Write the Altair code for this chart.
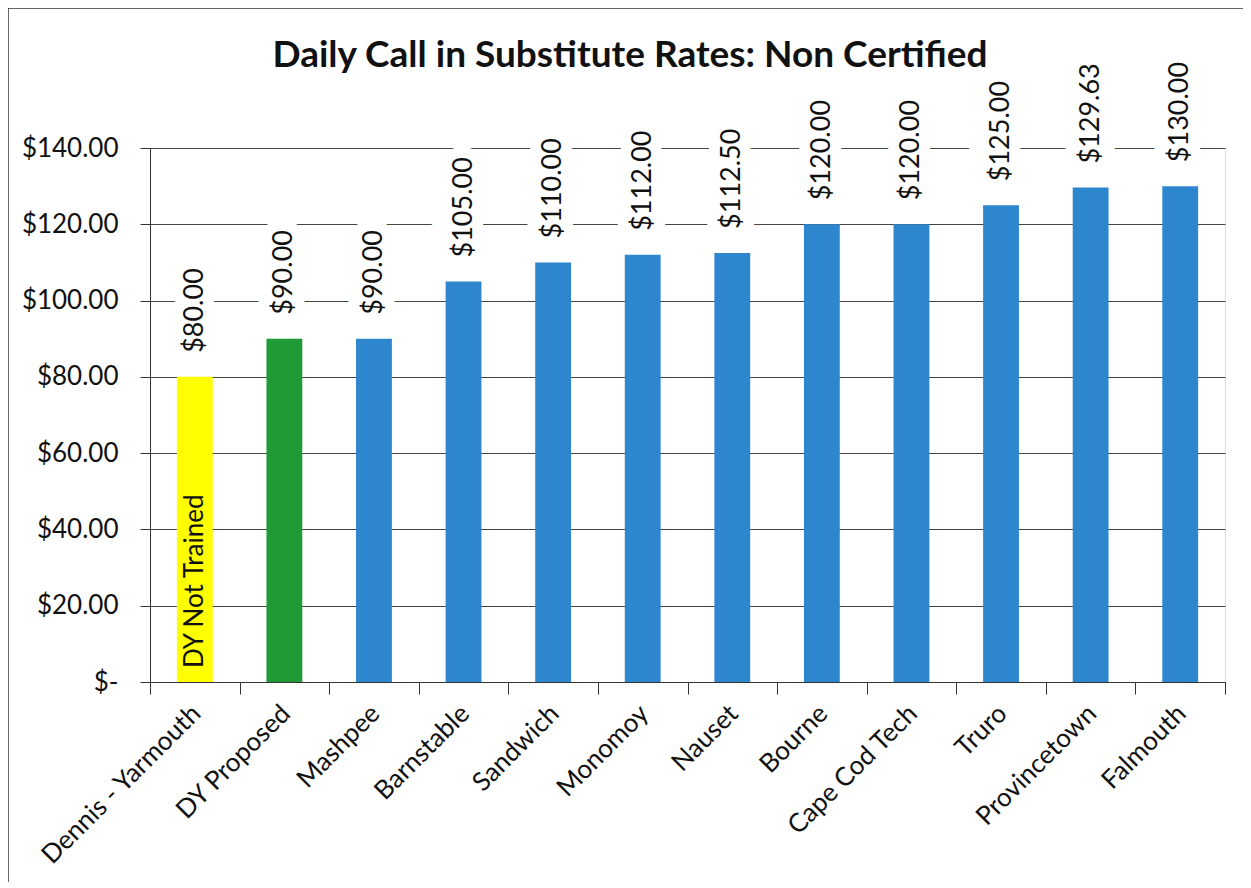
import altair as alt
import pandas as pd

categories = ["Dennis - Yarmouth", "DY Proposed", "Mashpee", "Barnstable", "Sandwich",
              "Monomoy", "Nauset", "Bourne", "Cape Cod Tech", "Truro", "Provincetown", "Falmouth"]
rates = [80.00, 90.00, 90.00, 105.00, 110.00, 112.00, 112.50, 120.00, 120.00, 125.00, 129.63, 130.00]
bar_colors = ["#FFFF00", "#1F9A36"] + ["#2E86CF"] * 10
y_ticks = [0, 20, 40, 60, 80, 100, 120, 140]
note_text = "DY Not Trained"
title_text = "Daily Call in Substitute Rates: Non Certified"

df = pd.DataFrame({"cat": categories, "rate": rates, "col": bar_colors})
df["label"] = ["$" + format(v, ".2f") for v in rates]
df["note"] = [note_text] + [""] * (len(categories) - 1)

FONT = "Lato"

x_enc = alt.X("cat:N", sort=categories, title=None,
              scale=alt.Scale(paddingInner=0, paddingOuter=0),
              axis=alt.Axis(labelAngle=-45, labelFontSize=26, labelFont=FONT, labelColor="#111",
                            labelLimit=0, labelOffset=-8, labelPadding=6,
                            tickBand="extent", tickSize=12, tickColor="#333", domainColor="#333",
                            grid=False))
y_enc = alt.Y("rate:Q", title=None,
              scale=alt.Scale(domain=[0, 140]),
              axis=alt.Axis(values=y_ticks, labelFontSize=26, labelFont=FONT, labelColor="#111",
                            labelExpr="datum.value == 0 ? '$-   ' : '$' + format(datum.value, '.2f')",
                            grid=True, gridColor="#444", gridWidth=1.2, tickSize=10, tickColor="#333",
                            domainColor="#333", labelPadding=22))

base = alt.Chart(df)

bars = base.mark_bar(width=alt.RelativeBandSize(0.4)).encode(
    x=x_enc, y=y_enc, color=alt.Color("col:N", scale=None))

halo = base.mark_text(angle=270, align="left", baseline="middle", dx=24, fontSize=27, font=FONT,
                      fill="white", stroke="white", strokeWidth=22).encode(
    x=alt.X("cat:N", sort=categories), y="rate:Q", text="label:N")

labels = base.mark_text(angle=270, align="left", baseline="middle", dx=24, fontSize=27, font=FONT,
                        color="#111").encode(
    x=alt.X("cat:N", sort=categories), y="rate:Q", text="label:N")

note = base.transform_filter("datum.note != ''").mark_text(
    angle=270, align="left", baseline="middle", dx=14, fontSize=26, font=FONT, color="#111").encode(
    x=alt.X("cat:N", sort=categories), y=alt.datum(0), text="note:N")

title = alt.Chart(df).transform_filter("datum.note != ''").mark_text(
    fontSize=37, font=FONT, fontWeight="bold", color="#111",
    align="center", baseline="alphabetic").encode(
    x=alt.value(480), y=alt.value(-81), text=alt.value(title_text))

left_border = alt.Chart(df).transform_filter("datum.note != ''").mark_rule(
    color="#333", strokeWidth=1.5).encode(
    x=alt.value(-142), y=alt.value(-140), y2=alt.value(734))
top_border = alt.Chart(df).transform_filter("datum.note != ''").mark_rule(
    color="#333", strokeWidth=1.5).encode(
    y=alt.value(-140), x=alt.value(-142), x2=alt.value(1093))

chart = alt.layer(bars, halo, labels, note, title, left_border, top_border).properties(
    width=1075, height=534,
    autosize=alt.AutoSizeParams(type="none"),
    padding={"left": 142, "top": 140, "right": 18, "bottom": 200},
).configure_view(stroke=None).configure(background="white")

chart.save("out.html", embed_options={"renderer": "svg", "actions": False})
